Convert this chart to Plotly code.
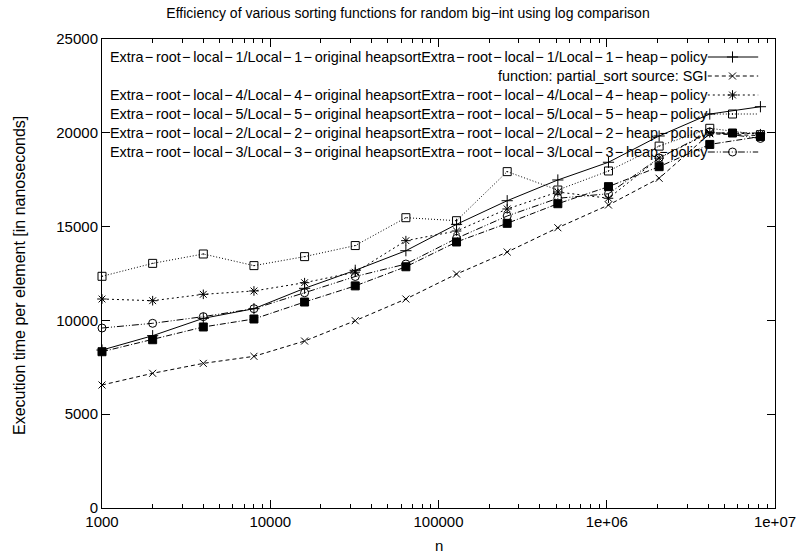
import plotly.graph_objects as go

# ---- data ----
n_values = [1000, 2000, 4000, 8000, 16000, 32000, 64000, 128000, 256000,
            512000, 1024000, 2048000, 4096000, 8192000]

local1 = [8420, 9185, 10110, 10625, 11710, 12670, 13715, 15120, 16380, 17485, 18430, 19830, 21000, 21390]
sgi = [6556, 7180, 7710, 8085, 8900, 9985, 11140, 12470, 13645, 14940, 16150, 17575, 19950, 19850]
local4 = [11140, 11050, 11390, 11570, 12010, 12570, 14250, 14765, 15940, 16845, 16510, 18650, 20000, 19950]
local5 = [12350, 13040, 13540, 12920, 13400, 13990, 15475, 15315, 17930, 16950, 17965, 19290, 20240, 19900]
local2 = [8330, 8970, 9650, 10075, 10980, 11840, 12860, 14180, 15175, 16220, 17130, 18195, 19380, 19800]
local3 = [9595, 9845, 10200, 10625, 11475, 12340, 13005, 14375, 15565, 16510, 16750, 18660, 20050, 19700]

M = "\u2212"
D = "\u200a\u2212\u2009"   # slightly wider dash as drawn in the key
labels = [
    f"Extra{D}root{D}local{D}1/Local{D}1{D}original heapsortExtra{D}root{D}local{D}1/Local{D}1{D}heap{D}policy",
    "function: partial_sort source: SGI",
    f"Extra{D}root{D}local{D}4/Local{D}4{D}original heapsortExtra{D}root{D}local{D}4/Local{D}4{D}heap{D}policy",
    f"Extra{D}root{D}local{D}5/Local{D}5{D}original heapsortExtra{D}root{D}local{D}5/Local{D}5{D}heap{D}policy",
    f"Extra{D}root{D}local{D}2/Local{D}2{D}original heapsortExtra{D}root{D}local{D}2/Local{D}2{D}heap{D}policy",
    f"Extra{D}root{D}local{D}3/Local{D}3{D}original heapsortExtra{D}root{D}local{D}3/Local{D}3{D}heap{D}policy",
]
series = [local1, sgi, local4, local5, local2, local3]

x_tickvals = [1000, 10000, 100000, 1000000, 10000000]
x_ticktext = ["1000", "10000", "100000", "1e+06", "1e+07"]
y_tickvals = [0, 5000, 10000, 15000, 20000, 25000]
y_ticktext = ["0", "5000", "10000", "15000", "20000", "25000"]

# ---- styles ----
styles = [
    dict(dash="solid", symbol="cross-thin", size=8),
    dict(dash="4px,3px", symbol="x-thin", size=7),
    dict(dash="2px,3px", symbol="asterisk", size=8),
    dict(dash="1px,2px", symbol="square-open-dot", size=8),
    dict(dash="6px,2px,1px,2px", symbol="square", size=8),
    dict(dash="7px,2px,1px,2px,1px,2px", symbol="circle-open", size=8),
]

FAM = "Liberation Sans, Arial, sans-serif"

fig = go.Figure()

for s, st in zip(series, styles):
    fig.add_trace(go.Scatter(
        x=n_values, y=s, mode="lines+markers",
        line=dict(color="black", width=1, dash=st["dash"]),
        marker=dict(symbol=st["symbol"], size=st["size"], color="black",
                    line=dict(color="black", width=1)),
        showlegend=False, cliponaxis=False,
    ))

# ---- gnuplot-style key (text right, samples at right) ----
row_px = [57, 76, 95, 114, 133, 152]
top_px, bot_px = 39, 508
left_px, right_px = 102, 783
def fy(p):
    return (bot_px - p) / (bot_px - top_px)
def fx(p):
    return (p - left_px) / (right_px - left_px)

annotations = []
for lbl, st, rp in zip(labels, styles, row_px):
    yy = fy(rp)
    fig.add_trace(go.Scatter(
        x=[fx(715), fx(766)], y=[yy, yy], mode="lines",
        line=dict(color="black", width=1, dash=st["dash"]),
        xaxis="x2", yaxis="y2", showlegend=False, hoverinfo="skip"))
    fig.add_trace(go.Scatter(
        x=[fx(740)], y=[yy], mode="markers",
        marker=dict(symbol=st["symbol"], size=st["size"], color="black",
                    line=dict(color="black", width=1)),
        xaxis="x2", yaxis="y2", showlegend=False, hoverinfo="skip"))
    annotations.append(dict(
        x=fx(717), y=yy, xref="paper", yref="paper", text=lbl,
        showarrow=False, xanchor="right", yanchor="middle",
        font=dict(family=FAM, size=14.4, color="black")))

annotations.append(dict(
    x=fx(442.5), y=fy(545), xref="paper", yref="paper", text="n",
    showarrow=False, xanchor="center", yanchor="middle",
    font=dict(family=FAM, size=15, color="black")))
annotations.append(dict(
    x=fx(18), y=fy(275), xref="paper", yref="paper",
    text="Execution time per element [in nanoseconds]", textangle=-90,
    showarrow=False, xanchor="center", yanchor="middle",
    font=dict(family=FAM, size=16, color="black")))

tickfont = dict(family=FAM, size=15, color="black")

minor_x = []
for dec in [1000, 10000, 100000, 1000000]:
    for m in range(2, 10):
        minor_x.append(dec * m)

fig.update_layout(
    width=808, height=554,
    margin=dict(l=left_px, r=808 - right_px, t=top_px, b=554 - bot_px),
    paper_bgcolor="white", plot_bgcolor="white",
    font=dict(family=FAM, size=14, color="black"),
    title=dict(text=f"Efficiency of various sorting functions for random big{M}int using log comparison",
               x=408 / 808, xanchor="center",
               y=1 - 13 / 554, yanchor="middle",
               font=dict(family=FAM, size=14, color="black")),
    xaxis=dict(type="log", range=[2.99999, 7.00001], tickmode="array", tickvals=x_tickvals,
               ticktext=x_ticktext, ticks="inside", ticklen=8, tickwidth=1,
               tickcolor="black", showline=True, linecolor="black", linewidth=1,
               mirror="allticks", showgrid=False, zeroline=False,
               minor=dict(tickmode="array", tickvals=minor_x, ticks="inside",
                          ticklen=4, tickwidth=1, tickcolor="black", showgrid=False),
               tickfont=tickfont),
    yaxis=dict(range=[0, 25000], tickmode="array", tickvals=y_tickvals,
               ticktext=y_ticktext, ticks="inside", ticklen=8, tickwidth=1,
               tickcolor="black", showline=True, linecolor="black", linewidth=1,
               mirror="allticks", showgrid=False, zeroline=False, tickfont=tickfont),
    xaxis2=dict(overlaying="x", range=[0, 1], visible=False, fixedrange=True),
    yaxis2=dict(overlaying="y", range=[0, 1], visible=False, fixedrange=True),
    annotations=annotations,
    showlegend=False,
)

fig.write_html("out.html", config={"displayModeBar": False},
               post_script="document.body.style.margin='0';document.body.style.padding='0';")
